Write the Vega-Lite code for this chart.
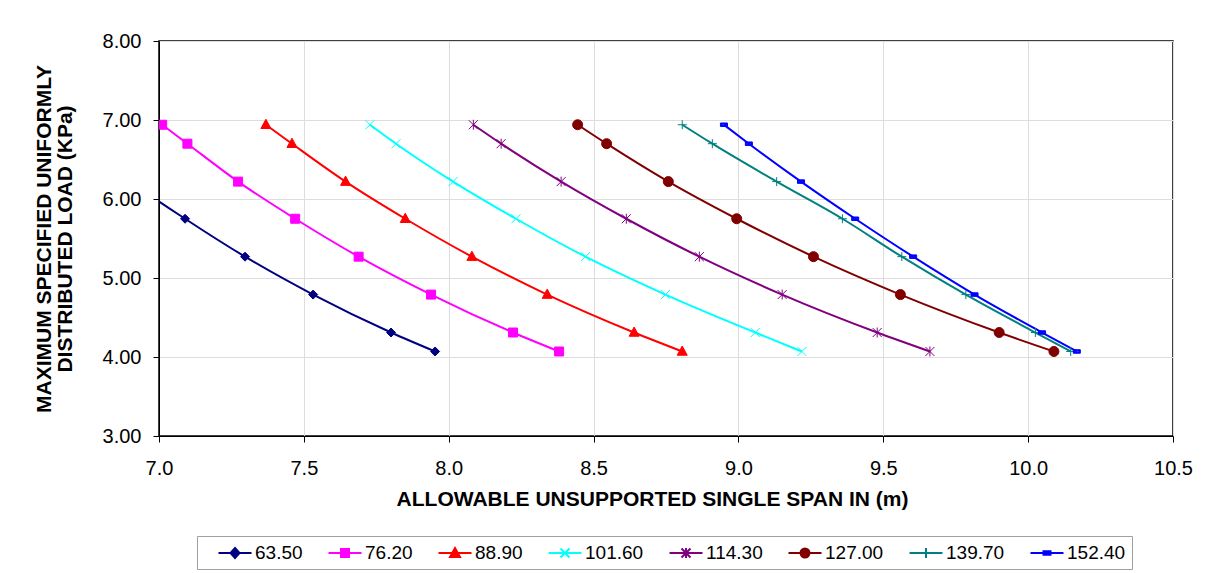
{
  "$schema": "https://vega.github.io/schema/vega-lite/v6.json",
  "width": 1014,
  "height": 395,
  "autosize": {"type": "none"},
  "padding": {"left": 159, "top": 41, "right": 34, "bottom": 137},
  "background": "white",
  "config": {
    "view": {"stroke": "black", "strokeWidth": 1.5},
    "font": "Liberation Sans",
    "axis": {
      "labelFont": "Liberation Sans", "labelFontSize": 20, "labelColor": "black",
      "titleFont": "Liberation Sans", "titleFontSize": 21, "titleFontWeight": "bold", "titleColor": "black",
      "domainColor": "black", "tickColor": "black", "tickSize": 6,
      "gridColor": "#dddddd", "gridWidth": 1
    }
  },
  "resolve": {"scale": {"stroke": "independent", "fill": "independent", "shape": "independent"}},
  "data": {"values": [
    {"s": "63.50", "span": 6.653, "load": 6.94},
    {"s": "63.50", "span": 6.736, "load": 6.70},
    {"s": "63.50", "span": 6.902, "load": 6.22},
    {"s": "63.50", "span": 7.090, "load": 5.75},
    {"s": "63.50", "span": 7.297, "load": 5.27},
    {"s": "63.50", "span": 7.532, "load": 4.79},
    {"s": "63.50", "span": 7.801, "load": 4.31},
    {"s": "63.50", "span": 7.953, "load": 4.07},
    {"s": "76.20", "span": 7.011, "load": 6.94},
    {"s": "76.20", "span": 7.098, "load": 6.70},
    {"s": "76.20", "span": 7.273, "load": 6.22},
    {"s": "76.20", "span": 7.470, "load": 5.75},
    {"s": "76.20", "span": 7.689, "load": 5.27},
    {"s": "76.20", "span": 7.939, "load": 4.79},
    {"s": "76.20", "span": 8.222, "load": 4.31},
    {"s": "76.20", "span": 8.381, "load": 4.07},
    {"s": "88.90", "span": 7.369, "load": 6.94},
    {"s": "88.90", "span": 7.459, "load": 6.70},
    {"s": "88.90", "span": 7.644, "load": 6.22},
    {"s": "88.90", "span": 7.850, "load": 5.75},
    {"s": "88.90", "span": 8.080, "load": 5.27},
    {"s": "88.90", "span": 8.340, "load": 4.79},
    {"s": "88.90", "span": 8.640, "load": 4.31},
    {"s": "88.90", "span": 8.806, "load": 4.07},
    {"s": "101.60", "span": 7.728, "load": 6.94},
    {"s": "101.60", "span": 7.818, "load": 6.70},
    {"s": "101.60", "span": 8.015, "load": 6.22},
    {"s": "101.60", "span": 8.232, "load": 5.75},
    {"s": "101.60", "span": 8.472, "load": 5.27},
    {"s": "101.60", "span": 8.748, "load": 4.79},
    {"s": "101.60", "span": 9.058, "load": 4.31},
    {"s": "101.60", "span": 9.219, "load": 4.07},
    {"s": "114.30", "span": 8.085, "load": 6.94},
    {"s": "114.30", "span": 8.181, "load": 6.70},
    {"s": "114.30", "span": 8.388, "load": 6.22},
    {"s": "114.30", "span": 8.613, "load": 5.75},
    {"s": "114.30", "span": 8.865, "load": 5.27},
    {"s": "114.30", "span": 9.151, "load": 4.79},
    {"s": "114.30", "span": 9.479, "load": 4.31},
    {"s": "114.30", "span": 9.661, "load": 4.07},
    {"s": "127.00", "span": 8.445, "load": 6.94},
    {"s": "127.00", "span": 8.545, "load": 6.70},
    {"s": "127.00", "span": 8.758, "load": 6.22},
    {"s": "127.00", "span": 8.994, "load": 5.75},
    {"s": "127.00", "span": 9.259, "load": 5.27},
    {"s": "127.00", "span": 9.559, "load": 4.79},
    {"s": "127.00", "span": 9.900, "load": 4.31},
    {"s": "127.00", "span": 10.089, "load": 4.07},
    {"s": "139.70", "span": 8.806, "load": 6.94},
    {"s": "139.70", "span": 8.910, "load": 6.70},
    {"s": "139.70", "span": 9.132, "load": 6.22},
    {"s": "139.70", "span": 9.359, "load": 5.75},
    {"s": "139.70", "span": 9.564, "load": 5.27},
    {"s": "139.70", "span": 9.785, "load": 4.79},
    {"s": "139.70", "span": 10.025, "load": 4.31},
    {"s": "139.70", "span": 10.147, "load": 4.07},
    {"s": "152.40", "span": 8.950, "load": 6.94},
    {"s": "152.40", "span": 9.036, "load": 6.70},
    {"s": "152.40", "span": 9.216, "load": 6.22},
    {"s": "152.40", "span": 9.403, "load": 5.75},
    {"s": "152.40", "span": 9.603, "load": 5.27},
    {"s": "152.40", "span": 9.815, "load": 4.79},
    {"s": "152.40", "span": 10.048, "load": 4.31},
    {"s": "152.40", "span": 10.168, "load": 4.07}
  ]},
  "encoding": {
    "x": {
      "field": "span", "type": "quantitative",
      "scale": {"domain": [7, 10.5], "nice": false, "zero": false},
      "axis": {"values": [7, 7.5, 8, 8.5, 9, 9.5, 10, 10.5], "format": ".1f", "labelPadding": 16, "titlePadding": 10,
               "title": "ALLOWABLE UNSUPPORTED SINGLE SPAN IN (m)", "titleX": 493, "labelFlush": false}
    },
    "y": {
      "field": "load", "type": "quantitative",
      "scale": {"domain": [3, 8], "nice": false, "zero": false},
      "axis": {"values": [3, 4, 5, 6, 7, 8], "format": ".2f", "labelPadding": 12, "titlePadding": 27,
               "title": ["MAXIMUM SPECIFIED UNIFORMLY", "DISTRIBUTED LOAD (KPa)"], "titleLineHeight": 21}
    }
  },
  "layer": [
    {
      "mark": {"type": "line", "strokeWidth": 2, "interpolate": "monotone", "clip": true},
      "encoding": {
        "stroke": {
          "field": "s", "type": "nominal", "legend": null,
          "scale": {"domain": ["63.50", "76.20", "88.90", "101.60", "114.30", "127.00", "139.70", "152.40"],
                    "range": ["#000080", "#FF00FF", "#FF0000", "#00FFFF", "#800080", "#800000", "#008080", "#0000FF"]}
        }
      }
    },
    {
      "mark": {"type": "point", "filled": true, "size": 100, "strokeWidth": 1, "opacity": 1, "clip": true},
      "encoding": {
        "stroke": {
          "field": "s", "type": "nominal", "legend": null,
          "scale": {"domain": ["63.50", "76.20", "88.90", "101.60", "114.30", "127.00", "139.70", "152.40"],
                    "range": ["#000080", "#FF00FF", "#FF0000", "#00FFFF", "#800080", "#800000", "#008080", "#0000FF"]}
        },
        "fill": {
          "field": "s", "type": "nominal", "legend": null,
          "scale": {"domain": ["63.50", "76.20", "88.90", "101.60", "114.30", "127.00", "139.70", "152.40"],
                    "range": ["#000080", "#FF00FF", "#FF0000", "#00FFFF", "#800080", "#800000", "#008080", "#0000FF"]}
        },
        "shape": {
          "field": "s", "type": "nominal", "legend": null,
          "scale": {"domain": ["63.50", "76.20", "88.90", "101.60", "114.30", "127.00", "139.70", "152.40"],
                    "range": [
                      "M0,-0.9L0.9,0L0,0.9L-0.9,0Z",
                      "M-0.9,-0.9L0.9,-0.9L0.9,0.9L-0.9,0.9Z",
                      "M0,-1.1L1,0.75L-1,0.75Z",
                      "M-0.9,-0.9L0.9,0.9M0.9,-0.9L-0.9,0.9",
                      "M-0.9,-0.9L0.9,0.9M0.9,-0.9L-0.9,0.9M0,-1L0,1",
                      "circle",
                      "M-0.9,0L0.9,0M0,-0.9L0,0.9",
                      "M-0.7,-0.35L0.7,-0.35L0.7,0.35L-0.7,0.35ZM-0.42,-0.1L-0.42,0.1L0.42,0.1L0.42,-0.1Z"
                    ]}
        }
      }
    },
    {
      "transform": [{"filter": "datum.load > 100"}],
      "mark": {"type": "point", "filled": true, "strokeWidth": 2, "opacity": 1},
      "encoding": {
        "stroke": {
          "field": "s", "type": "nominal",
          "scale": {"domain": ["63.50", "76.20", "88.90", "101.60", "114.30", "127.00", "139.70", "152.40"],
                    "range": ["#000080", "#FF00FF", "#FF0000", "#00FFFF", "#800080", "#800000", "#008080", "#0000FF"]}
        },
        "fill": {
          "field": "s", "type": "nominal",
          "scale": {"domain": ["63.50", "76.20", "88.90", "101.60", "114.30", "127.00", "139.70", "152.40"],
                    "range": ["#000080", "#FF00FF", "#FF0000", "#00FFFF", "#800080", "#800000", "#008080", "#0000FF"]}
        },
        "shape": {
          "field": "s", "type": "nominal",
          "scale": {"domain": ["63.50", "76.20", "88.90", "101.60", "114.30", "127.00", "139.70", "152.40"],
                    "range": [
                      "M-1.65,0L1.65,0M0,-0.5L0.45,0L0,0.5L-0.45,0Z",
                      "M-1.65,0L1.65,0M-0.4,-0.4L0.4,-0.4L0.4,0.4L-0.4,0.4Z",
                      "M-1.65,0L1.65,0M0,-0.5L0.5,0.4L-0.5,0.4Z",
                      "M-1.65,0L1.65,0M-0.45,-0.45L0.45,0.45M0.45,-0.45L-0.45,0.45",
                      "M-1.65,0L1.65,0M-0.45,-0.45L0.45,0.45M0.45,-0.45L-0.45,0.45M0,-0.5L0,0.5",
                      "M-1.65,0L1.65,0M0.45,0A0.45,0.45,0,1,1,-0.45,0A0.45,0.45,0,1,1,0.45,0Z",
                      "M-1.65,0L1.65,0M0,-0.5L0,0.5",
                      "M-1.65,0L1.65,0M-0.35,-0.18L0.35,-0.18L0.35,0.18L-0.35,0.18Z"
                    ]},
          "legend": {
            "title": null, "orient": "none", "legendX": 38, "legendY": 495,
            "direction": "horizontal", "columns": 8,
            "labelFont": "Liberation Sans", "labelFontSize": 19, "labelColor": "black",
            "symbolSize": 400, "symbolOffset": 21, "labelOffset": 9, "columnPadding": 10,
            "padding": 6, "strokeColor": "#a0a0a0",
            "symbolStrokeWidth": 2, "symbolOpacity": 1
          }
        }
      }
    }
  ]
}
